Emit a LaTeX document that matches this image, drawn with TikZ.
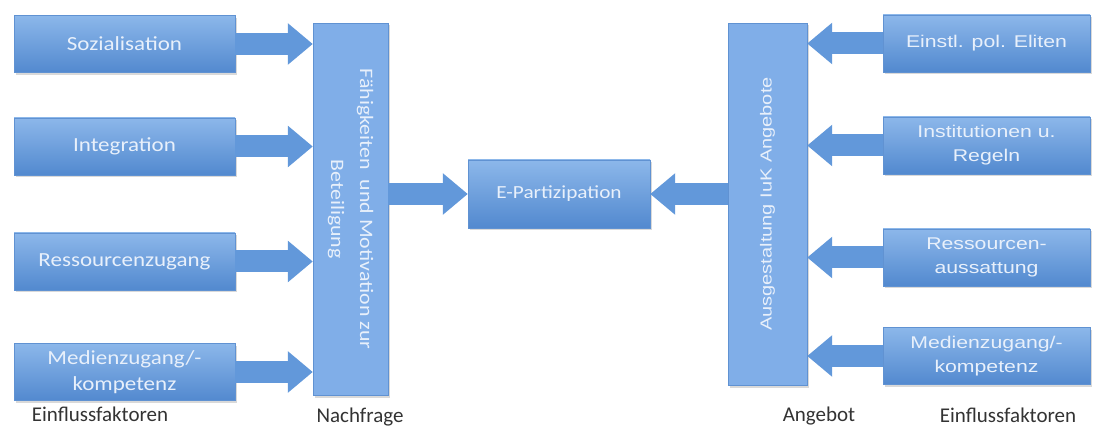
\documentclass[tikz,border=0pt]{standalone}
\usepackage{fontspec}
\setmainfont{Carlito}
\newfontfamily\boxfont[FakeStretch=1.15]{Carlito}
\newfontfamily\arialfont[FakeStretch=1.25]{Liberation Sans}
\usetikzlibrary{arrows.meta,shadows}

\definecolor{boxtop}{RGB}{140,183,234}
\definecolor{boxbot}{RGB}{82,137,207}
\definecolor{boxline}{RGB}{96,146,210}
\definecolor{tallblue}{RGB}{128,174,232}
\definecolor{arrowblue}{RGB}{98,152,218}
\definecolor{boxtext}{RGB}{232,240,251}

\begin{document}
\begin{tikzpicture}[x=1pt,y=-1pt,
  common/.style={draw=boxline,text=boxtext,align=center,inner sep=2pt,
    drop shadow={shadow xshift=1.5pt,shadow yshift=-2.5pt,opacity=.3}},
  box/.style={common,top color=boxtop,bottom color=boxbot,minimum height=57pt},
  tallbox/.style={common,fill=tallblue},
  fatarrow/.style={draw=arrowblue,line width=22pt,-{Triangle[length=25pt,width=40pt]}},
  footlabel/.style={anchor=base,text=black!80,font=\fontsize{21}{24}\selectfont}]
\useasboundingbox (0,0) rectangle (1094,427);

% Nachfrage
\node[box,minimum width=221pt,font=\boxfont\fontsize{20}{23}\selectfont] (soz) at (124.5,44) {Sozialisation};
\node[box,minimum width=221pt,font=\boxfont\fontsize{20}{23}\selectfont] (integ) at (124.5,146.5) {Integration};
\node[box,minimum width=221pt,font=\boxfont\fontsize{20}{23}\selectfont] (ress) at (124.5,261.5) {Ressourcenzugang};
\node[box,minimum width=221pt,font=\boxfont\fontsize{20}{26}\selectfont] (medien) at (124.5,372) {Medienzugang/-\\kompetenz};

\node[tallbox,rotate=-90,minimum width=372pt,minimum height=75pt,
      font=\boxfont\fontsize{19}{29}\selectfont] (nachfrage) at (350.5,209)
      {F\"ahigkeiten\ \ und Motivation zur\\Beteiligung};

% Mitte
\node[box,minimum width=182pt,minimum height=68pt,font=\boxfont\fontsize{18.5}{22}\selectfont] (epart) at (559,194) {E-Partizipation};

% Angebot
\node[tallbox,rotate=90,minimum width=362pt,minimum height=79pt,
      font=\arialfont\fontsize{16}{19}\selectfont] (angebot) at (767.5,204)
      {Ausgestaltung IuK Angebote};

\node[box,minimum width=207pt,font=\arialfont\fontsize{17}{24}\selectfont] (eliten) at (986.5,43.5) {Einstl. pol. Eliten};
\node[box,minimum width=207pt,font=\arialfont\fontsize{17}{24}\selectfont] (inst) at (986.5,145.5) {Institutionen u.\\Regeln};
\node[box,minimum width=207pt,font=\arialfont\fontsize{17}{24}\selectfont] (ausst) at (986.5,257.5) {Ressourcen-\\aussattung};
\node[box,minimum width=207pt,font=\arialfont\fontsize{17}{24}\selectfont] (medien-1) at (986.5,356) {Medienzugang/-\\kompetenz};

% Pfeile
\foreach \n in {soz,integ,ress,medien}
  \draw[fatarrow] (\n.east) -- (\n.east -| nachfrage.south);
\foreach \n in {eliten,inst,ausst,medien-1}
  \draw[fatarrow] (\n.west) -- (\n.west -| angebot.south);
\draw[fatarrow] (nachfrage.north |- epart.west) -- (epart.west);
\draw[fatarrow] (angebot.north |- epart.east) -- (epart.east);

% Beschriftung
\node[footlabel] (einfl) at (100,421) {Einflussfaktoren};
\node[footlabel] (nachfr) at (360,422) {Nachfrage};
\node[footlabel] (angeb) at (819,421) {Angebot};
\node[footlabel] (einfl-1) at (1008,422) {Einflussfaktoren};
\end{tikzpicture}
\end{document}
